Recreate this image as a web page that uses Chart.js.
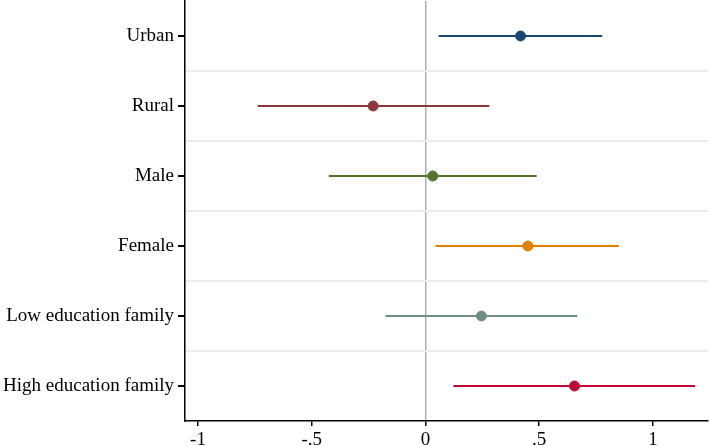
<!DOCTYPE html>
<html>
<head>
<meta charset="utf-8">
<script src="https://cdn.jsdelivr.net/npm/chart.js@4.4.1/dist/chart.umd.min.js"></script>
<style>
  html, body { margin: 0; padding: 0; background: #fff; }
  #wrap { width: 710px; height: 446px; }
</style>
</head>
<body>
<div id="wrap"><canvas id="coefChart" width="710" height="446"></canvas></div>
<script>
// =================== DATA ===================
const categories = ["Urban", "Rural", "Male", "Female", "Low education family", "High education family"];
const estimates = [0.418, -0.23, 0.032, 0.45, 0.246, 0.655];
const lowerCI = [0.058, -0.737, -0.425, 0.044, -0.176, 0.123];
const upperCI = [0.777, 0.281, 0.489, 0.85, 0.667, 1.185];
const xTicks = [-1, -0.5, 0, 0.5, 1];
const xTickLabels = ["-1", "-.5", "0", ".5", "1"];

// =================== STYLE ===================
const colors = ["#1a476f", "#90353b", "#55752f", "#e37e00", "#6e8e84", "#c10534"];
const FONT = { family: "'Liberation Serif', 'Times New Roman', serif", size: 19 };

// =================== DATASETS ===================
const ciSets = categories.map((c, i) => ({
  label: c + " CI",
  data: [{ x: lowerCI[i], y: i }, { x: upperCI[i], y: i }],
  showLine: true,
  borderColor: colors[i],
  borderWidth: 2,
  pointRadius: 0
}));

const pointSet = {
  label: "Estimate",
  data: estimates.map((v, i) => ({ x: v, y: i })),
  pointRadius: 5,
  pointBackgroundColor: colors,
  pointBorderColor: colors,
  showLine: false
};

// =================== CHART ===================
new Chart(document.getElementById("coefChart"), {
  type: "scatter",
  data: { datasets: [...ciSets, pointSet] },
  options: {
    responsive: false,
    animation: false,
    layout: { autoPadding: false, padding: { top: 1, right: 2, bottom: 0, left: 0 } },
    plugins: { legend: { display: false }, tooltip: { enabled: false } },
    scales: {
      x: {
        type: "linear",
        min: -1.057,
        max: 1.242,
        afterBuildTicks: (scale) => { scale.ticks = xTicks.map(v => ({ value: v })); },
        afterFit: (scale) => {
          scale.height = 25;
          scale.paddingLeft = 0;
          scale.paddingRight = 0;
        },
        border: { color: "#000", width: 1.5 },
        grid: {
          color: (ctx) => (ctx.tick && ctx.tick.value === 0 ? "#a3b6b2" : "rgba(0,0,0,0)"),
          lineWidth: 1.5,
          tickColor: "#000",
          tickLength: 5,
          drawTicks: true
        },
        ticks: {
          color: "#000",
          font: FONT,
          padding: 3,
          maxRotation: 0,
          callback: (v) => {
            const k = xTicks.indexOf(v);
            return k >= 0 ? xTickLabels[k] : "";
          }
        }
      },
      y: {
        type: "linear",
        reverse: true,
        min: -0.5,
        max: categories.length - 0.5,
        afterBuildTicks: (scale) => {
          const t = [];
          for (let v = -0.5; v <= categories.length - 0.5; v += 0.5) t.push({ value: v });
          scale.ticks = t;
        },
        afterFit: (scale) => {
          scale.width = 185;
          scale.paddingTop = 0;
          scale.paddingBottom = 0;
        },
        border: { color: "#000", width: 1.5 },
        grid: {
          color: (ctx) => {
            const v = ctx.tick ? ctx.tick.value : 0;
            const inner = v > -0.5 && v < categories.length - 0.5;
            return inner && !Number.isInteger(v) ? "#e6eef2" : "rgba(0,0,0,0)";
          },
          tickColor: (ctx) => (ctx.tick && Number.isInteger(ctx.tick.value) ? "#000" : "rgba(0,0,0,0)"),
          lineWidth: 2,
          tickLength: 7,
          drawTicks: true
        },
        ticks: {
          color: "#000",
          font: FONT,
          padding: 4,
          autoSkip: false,
          callback: (v) => (Number.isInteger(v) ? categories[v] : "")
        }
      }
    }
  }
});
</script>
</body>
</html>
